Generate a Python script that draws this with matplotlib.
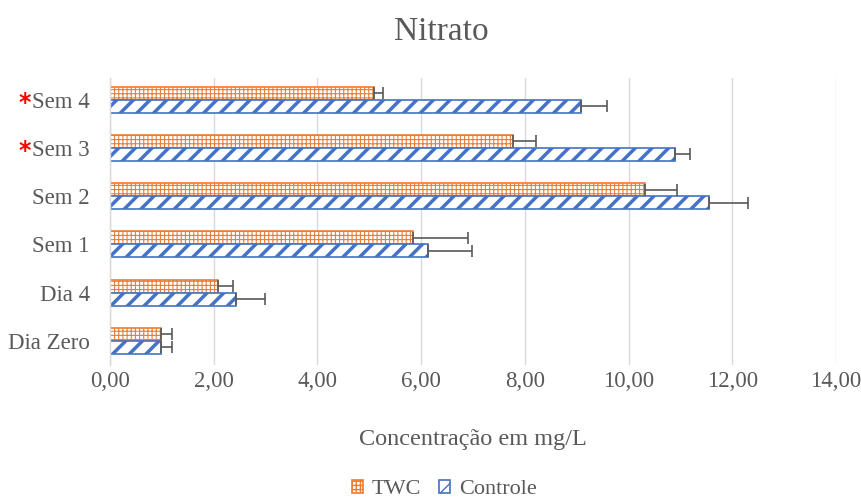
import matplotlib
matplotlib.use("Agg")
import matplotlib.pyplot as plt
import matplotlib.transforms as mtransforms
import numpy as np
from matplotlib.ticker import FuncFormatter

categories = ["Dia Zero", "Dia 4", "Sem 1", "Sem 2", "Sem 3", "Sem 4"]
twc = [0.98, 2.08, 5.84, 10.32, 7.77, 5.09]
twc_err = [0.21, 0.29, 1.06, 0.61, 0.44, 0.18]
controle = [0.98, 2.43, 6.13, 11.55, 10.89, 9.08]
controle_err = [0.21, 0.56, 0.85, 0.75, 0.29, 0.50]
starred = ["Sem 3", "Sem 4"]
xticks = [0, 2, 4, 6, 8, 10, 12, 14]

plt.rcParams['font.family'] = ['Liberation Serif', 'DejaVu Serif']
gray = '#595959'
orange = '#ED7D31'
blue = '#4472C4'
serif = ['Liberation Serif', 'DejaVu Serif']

fig = plt.figure(figsize=(8.62, 4.99), dpi=100)
ax = fig.add_axes([0.1276, 0.2685, 0.970 - 0.1276, 0.8437 - 0.2685])

y = np.arange(len(categories))
h = 0.27

with plt.rc_context({'hatch.linewidth': 0.8}):
    ax.barh(y + h / 2, twc, height=h, color='white', edgecolor=orange,
            hatch='++++', linewidth=1.2, zorder=3, label='TWC')
with plt.rc_context({'hatch.linewidth': 2.5}):
    ax.barh(y - h / 2, controle, height=h, color='white', edgecolor=blue,
            hatch='//', linewidth=1.2, zorder=3, label='Controle')

ax.errorbar(twc, y + h / 2, xerr=[np.zeros(len(twc)), twc_err], fmt='none',
            ecolor=gray, elinewidth=1.2, capsize=4.5, capthick=1.2, zorder=4)
ax.errorbar(controle, y - h / 2, xerr=[np.zeros(len(controle)), controle_err], fmt='none',
            ecolor=gray, elinewidth=1.2, capsize=4.5, capthick=1.2, zorder=4)

ax.set_xlim(0, 14)
ax.set_ylim(-0.5, 5.45)
ax.set_xticks(xticks)
ax.xaxis.set_major_formatter(FuncFormatter(lambda v, p: f"{v:.2f}".replace('.', ',')))
ax.set_yticks(y)
ax.set_yticklabels(categories)
ax.tick_params(axis='both', length=0, labelsize=16.5, labelcolor=gray)
ax.tick_params(axis='x', pad=4)
ax.tick_params(axis='y', pad=14.5)
ax.grid(axis='x', color='#d9d9d9', linewidth=1, zorder=0)
for s in ['top', 'right', 'bottom']:
    ax.spines[s].set_visible(False)
ax.spines['left'].set_color('#d9d9d9')
ax.spines['left'].set_linewidth(1)
ax.spines['left'].set_zorder(5)

trans = mtransforms.blended_transform_factory(ax.transAxes, ax.transData)
for i, c in enumerate(categories):
    if c in starred:
        ax.text(-0.117, i - 0.06, '*', color='red', fontsize=17, fontweight='bold',
                transform=trans, ha='center', va='center', family='DejaVu Sans')

ax.set_xlabel('Concentração em mg/L', fontsize=17.5, color=gray, labelpad=27)
fig.text(0.512, 0.937, 'Nitrato', fontsize=24, color=gray, ha='center', va='center')

leg = ax.legend(loc='upper center', bbox_to_anchor=(0.46, -0.347), ncol=2, frameon=False,
                prop={'family': serif, 'size': 16},
                handlelength=0.5, handleheight=0.5, handletextpad=0.4,
                columnspacing=0.8, borderpad=0.2)
for t in leg.get_texts():
    t.set_color(gray)

fig.savefig('out.png', dpi=100)
